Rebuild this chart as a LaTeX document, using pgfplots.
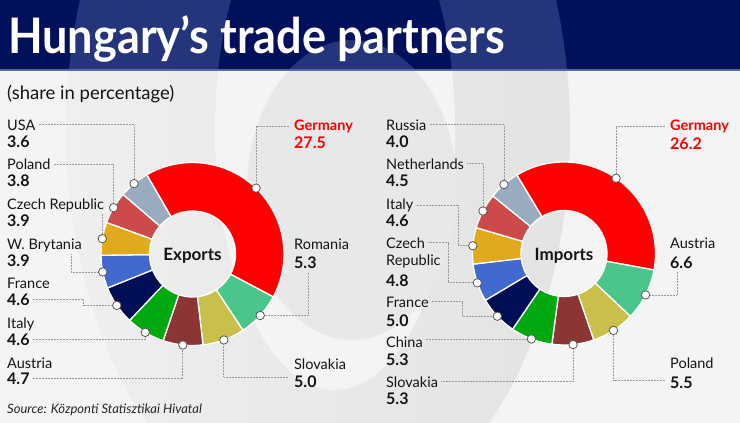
\documentclass[border=0pt]{standalone}
\usepackage{pgfplots}
\pgfplotsset{compat=1.18}
\usepackage{pgfplotstable}
\usetikzlibrary{calc}
\usepackage{fontspec}
\setmainfont{Lato}
\newfontfamily\titlefont{Lato}[FakeStretch=0.92]

\definecolor{navy}{HTML}{00105A}
\definecolor{navyl}{HTML}{24357C}
\definecolor{bg}{HTML}{F4F4F4}
\definecolor{ringl}{HTML}{EFEFEF}
\definecolor{ringr}{HTML}{E3E3E3}
\definecolor{arch}{HTML}{E8E8E8}
\definecolor{lead}{HTML}{9A9A9A}
\definecolor{cRed}{HTML}{FF0000}
\definecolor{cMint}{HTML}{4BC68B}
\definecolor{cOlive}{HTML}{C8C04B}
\definecolor{cMaroon}{HTML}{8B3535}
\definecolor{cGreen}{HTML}{00A812}
\definecolor{cNavy}{HTML}{000F55}
\definecolor{cBlue}{HTML}{4169CF}
\definecolor{cGold}{HTML}{E1A91E}
\definecolor{cSalmon}{HTML}{CC4A4A}
\definecolor{cSteel}{HTML}{99ABBF}

% exports, clockwise from Germany
\pgfplotstableread[col sep=comma]{
share,colour
27.5,cRed
5.3,cMint
5.0,cOlive
4.7,cMaroon
4.6,cGreen
4.6,cNavy
3.9,cBlue
3.9,cGold
3.8,cSalmon
3.6,cSteel
}\exports

% imports, clockwise from Germany
\pgfplotstableread[col sep=comma]{
share,colour
26.2,cRed
6.6,cMint
5.5,cOlive
5.3,cMaroon
5.3,cGreen
5.0,cNavy
4.8,cBlue
4.6,cGold
4.5,cSalmon
4.0,cSteel
}\imports

\def\Rout{91.5}
\def\Rin{43}

% #1 table, #2 cx, #3 cy, #4 start angle, #5 prefix, #6 0 = anchors for leaders, 1 = slices + marks
\newcommand\donut[6]{%
  \pgfplotstablegetrowsof{#1}%
  \pgfmathtruncatemacro\lastrow{\pgfplotsretval-1}%
  \gdef\tot{0}%
  \foreach \k in {0,...,\lastrow}{%
    \pgfplotstablegetelem{\k}{share}\of{#1}%
    \pgfmathparse{\tot+\pgfplotsretval}\xdef\tot{\pgfmathresult}}%
  \xdef\cur{#4}%
  \foreach \k in {0,...,\lastrow}{%
    \pgfplotstablegetelem{\k}{share}\of{#1}\let\sh\pgfplotsretval
    \pgfplotstablegetelem{\k}{colour}\of{#1}\let\slcol\pgfplotsretval
    \pgfmathsetmacro\endang{\cur-360*\sh/\tot}%
    \pgfmathsetmacro\midang{(\cur+\endang)/2}%
    \pgfmathsetmacro\mx{#2+\Rout*cos(\midang)}%
    \pgfmathsetmacro\my{#3-\Rout*sin(\midang)}%
    \ifnum#6=0
      \edef\temp{\noexpand\coordinate (#5\k) at (axis cs:\mx,\my);}%
    \else
      \edef\temp{%
        \noexpand\fill[fill=\slcol, draw=white, line width=1.3pt, line join=round]
          ($(axis cs:#2,#3)+(\cur:\Rout pt)$) arc[start angle=\cur, end angle=\endang, radius=\Rout pt]
          -- ($(axis cs:#2,#3)+(\endang:\Rin pt)$) arc[start angle=\endang, end angle=\cur, radius=\Rin pt] -- cycle;
        \noexpand\addplot[only marks, mark=*, mark size=4.2pt,
          mark options={fill=white, draw=black!65, line width=0.8pt}] coordinates {(\mx,\my)};}%
    \fi
    \temp
    \xdef\cur{\endang}%
  }%
}

\tikzset{
  nm/.style={anchor=base west, inner sep=0pt, font=\fontsize{14.5}{15}\selectfont, text=black!92},
  val/.style={anchor=base west, inner sep=0pt, font=\bfseries\fontsize{16}{17}\selectfont, text=black!92},
  ger/.style={anchor=base west, inner sep=0pt, font=\bfseries\fontsize{14.5}{15}\selectfont, text=cRed},
  lead/.style={draw=lead, line width=0.75pt, dash pattern=on 0.75pt off 0.75pt},
}

\begin{document}
\begin{tikzpicture}
\begin{axis}[at={(0,0)}, anchor=south west, scale only axis,
  width=740pt, height=423pt, xmin=0, xmax=740, ymin=0, ymax=423,
  y dir=reverse, hide axis, clip=false]

% background and the big "O"
\fill[bg] (axis cs:0,0) rectangle (axis cs:740,423);
\begin{scope}
  \clip (axis cs:0,70) rectangle (axis cs:740,423);
  \shade[left color=ringl, right color=ringr] (axis cs:318,131) ellipse[x radius=252pt, y radius=398pt];
  \fill[bg] (axis cs:335,130) ellipse[x radius=120pt, y radius=260pt];
  \fill[arch] (axis cs:352,190) ellipse[x radius=105pt, y radius=150pt];
\end{scope}
\fill[navy] (axis cs:0,0) rectangle (axis cs:740,70);
\begin{scope}
  \clip (axis cs:0,0) rectangle (axis cs:740,70);
  \fill[navyl] (axis cs:318,131) ellipse[x radius=252pt, y radius=398pt];
  \fill[navy] (axis cs:335,130) ellipse[x radius=120pt, y radius=260pt];
  \fill[navyl] (axis cs:352,190) ellipse[x radius=105pt, y radius=150pt];
\end{scope}
\draw[navyl!75!white, line width=1.4pt] (axis cs:0,70) -- (axis cs:740,70);

\node[anchor=base west, inner sep=0pt, text=white, font=\titlefont\bfseries\fontsize{49}{49}\selectfont]
  at (axis cs:8,53) {Hungary’s trade partners};
\node[anchor=base west, inner sep=0pt, font=\fontsize{18.5}{19}\selectfont, text=black!92]
  at (axis cs:7,99) {(share in percentage)};
\node[anchor=base west, inner sep=0pt, font=\itshape\fontsize{13}{14}\selectfont, text=black!85]
  at (axis cs:7,413) {Source: Központi Statisztikai Hivatal};

% exports labels
\node[nm] (nUSA) at (axis cs:7,130) {USA};
\node[val] at (axis cs:7,147.5) {3.6};
\node[nm] (nPol) at (axis cs:7,169.5) {Poland};
\node[val] at (axis cs:7,186.5) {3.8};
\node[nm] (nCze) at (axis cs:7,209) {Czech Republic};
\node[val] at (axis cs:7,226) {3.9};
\node[nm] (nWB) at (axis cs:7,249) {W. Brytania};
\node[val] at (axis cs:7,266) {3.9};
\node[nm] at (axis cs:7,288) {France};
\node[val] (vFra) at (axis cs:7,305) {4.6};
\node[nm] at (axis cs:7,328) {Italy};
\node[val] (vIta) at (axis cs:7,345) {4.6};
\node[nm] at (axis cs:7,368) {Austria};
\node[val] (vAut) at (axis cs:7,384.5) {4.7};
\node[ger] (nGer) at (axis cs:294,130) {Germany};
\node[val, text=cRed] at (axis cs:294,148) {27.5};
\node[nm] at (axis cs:294,249) {Romania};
\node[val] (vRom) at (axis cs:294,268) {5.3};
\node[nm] at (axis cs:294,369) {Slovakia};
\node[val] at (axis cs:294,387) {5.0};

% imports labels
\node[nm] (nRus) at (axis cs:386,130) {Russia};
\node[val] at (axis cs:386,147) {4.0};
\node[nm] (nNet) at (axis cs:386,169) {Netherlands};
\node[val] at (axis cs:386,186) {4.5};
\node[nm] (nIta2) at (axis cs:386,209) {Italy};
\node[val] at (axis cs:386,226) {4.6};
\node[nm] (nCze2) at (axis cs:386,248) {Czech};
\node[nm] at (axis cs:386,265) {Republic};
\node[val] at (axis cs:386,286) {4.8};
\node[nm] (nFra2) at (axis cs:386,307) {France};
\node[val] at (axis cs:386,326) {5.0};
\node[nm] (nChi) at (axis cs:386,347) {China};
\node[val] at (axis cs:386,365) {5.3};
\node[nm] (nSlo2) at (axis cs:386,387) {Slovakia};
\node[val] at (axis cs:386,404) {5.3};
\node[ger] (nGer2) at (axis cs:670,130) {Germany};
\node[val, text=cRed] at (axis cs:670,149) {26.2};
\node[nm] at (axis cs:670,248) {Austria};
\node[val] at (axis cs:670,268) {6.6};
\node[nm] at (axis cs:670,368) {Poland};
\node[val] at (axis cs:670,388) {5.5};

% anchors for the leader lines
\donut{\exports}{192.5}{254}{120}{e}{0}
\donut{\imports}{564}{253.5}{121}{i}{0}

\draw[lead] ([xshift=3pt]nUSA.east) -| (e9);
\draw[lead] ([xshift=3pt]nPol.east) -| (e8);
\draw[lead] (e7) -- ++(0,25pt);
\draw[lead] (axis cs:71,254) |- (e6);
\draw[lead] ([xshift=3pt]vFra.east) -| (axis cs:83,301) |- (e5);
\draw[lead] ([xshift=3pt]vIta.east) -| (e4);
\draw[lead] ([xshift=3pt]vAut.east) -| (e3);
\draw[lead] (e2) |- (axis cs:288,377);
\draw[lead] (e1) -| (axis cs:308,272);
\draw[lead] (e0) |- ([xshift=-5pt]nGer.west);

\draw[lead] ([xshift=3pt]nRus.east) -| (i9);
\draw[lead] ([xshift=3pt]nNet.east) -| (i8);
\draw[lead] ([xshift=3pt]nIta2.east) -| (axis cs:458,235) |- (i7);
\draw[lead] ([xshift=3pt]nCze2.east) -| (axis cs:448,270) |- (i6);
\draw[lead] ([xshift=3pt]nFra2.east) -| (axis cs:462,310) |- (i5);
\draw[lead, shorten >=3pt] (i4) -- (i4 -| nChi.east);
\draw[lead] ([xshift=3pt]nSlo2.east) -| (i3);
\draw[lead] (i2) |- (axis cs:665,380);
\draw[lead] (i1) -| (axis cs:677,272);
\draw[lead] (i0) |- ([xshift=-5pt]nGer2.west);

% the two rings
\donut{\exports}{192.5}{254}{120}{e}{1}
\donut{\imports}{564}{253.5}{121}{i}{1}

\node[anchor=base, inner sep=0pt, font=\bfseries\fontsize{17}{17}\selectfont, text=black!92]
  at (axis cs:192.5,260) {Exports};
\node[anchor=base, inner sep=0pt, font=\bfseries\fontsize{17}{17}\selectfont, text=black!92]
  at (axis cs:564,260) {Imports};
\end{axis}
\pgfresetboundingbox
\path (0,0) rectangle (740pt,423pt);
\end{tikzpicture}
\end{document}
